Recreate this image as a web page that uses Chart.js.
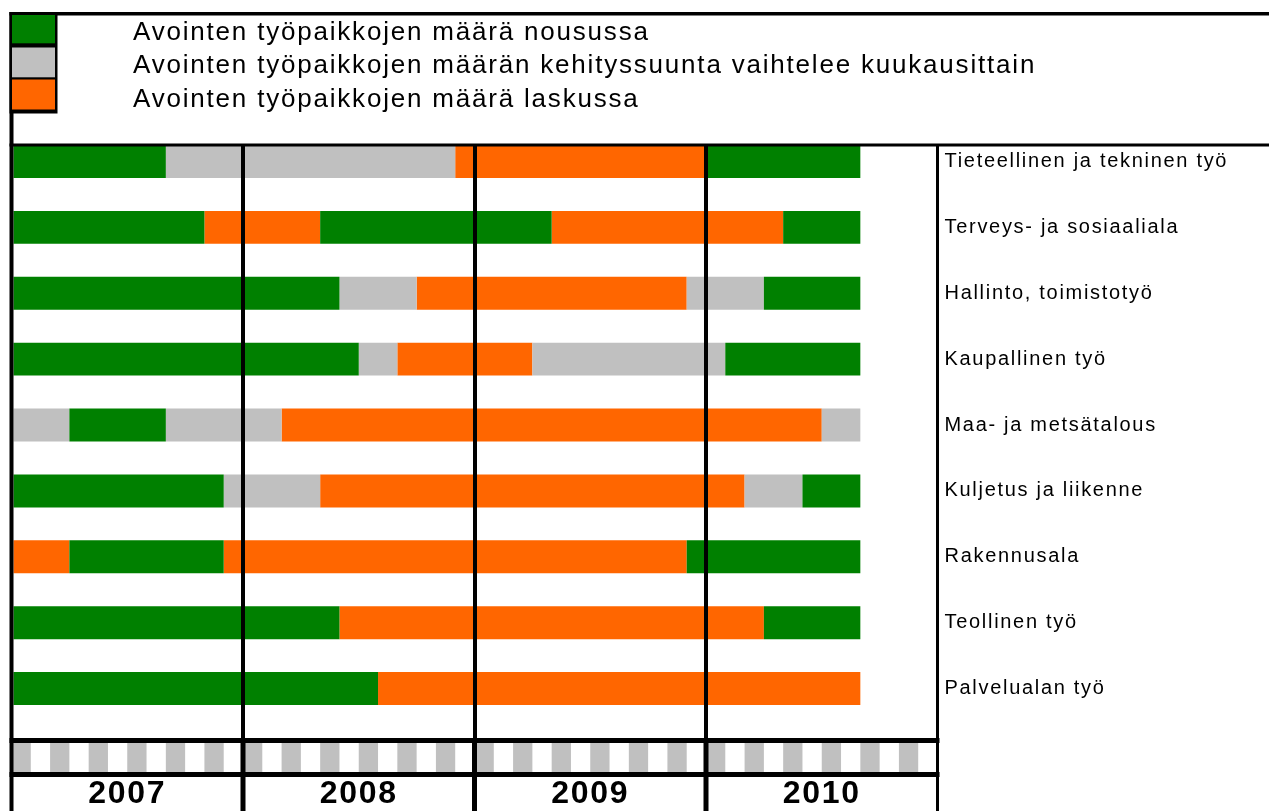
<!DOCTYPE html>
<html>
<head>
<meta charset="utf-8">
<script src="https://cdn.jsdelivr.net/npm/chart.js@4/dist/chart.umd.min.js"></script>
<style>
  html, body { margin: 0; padding: 0; background: #fff; }
  canvas { display: block; }
</style>
</head>
<body>
<canvas id="c" width="1269" height="811"></canvas>
<script>
// ---------- DATA ----------
const categories = [
  'Tieteellinen ja tekninen työ',
  'Terveys- ja sosiaaliala',
  'Hallinto, toimistotyö',
  'Kaupallinen työ',
  'Maa- ja metsätalous',
  'Kuljetus ja liikenne',
  'Rakennusala',
  'Teollinen työ',
  'Palvelualan työ'
];
const years = ['2007', '2008', '2009', '2010'];
const monthsPerYear = 12;
const trendKeys = ['up', 'mixed', 'down'];
const trendLabels = [
  'Avointen työpaikkojen määrä nousussa',
  'Avointen työpaikkojen määrän kehityssuunta vaihtelee kuukausittain',
  'Avointen työpaikkojen määrä laskussa'
];
// consecutive runs (in months, from Jan 2007) for each category
const runMonths = [
  [8, 15, 13, 8],
  [10, 6, 12, 12, 4],
  [17, 4, 14, 4, 5],
  [18, 2, 7, 10, 7],
  [3, 5, 6, 28, 2],
  [11, 5, 22, 3, 3],
  [3, 8, 24, 9],
  [17, 22, 5],
  [19, 25]
];
const runTrend = [
  ['up', 'mixed', 'down', 'up'],
  ['up', 'down', 'up', 'down', 'up'],
  ['up', 'mixed', 'down', 'mixed', 'up'],
  ['up', 'mixed', 'down', 'mixed', 'up'],
  ['mixed', 'up', 'mixed', 'down', 'mixed'],
  ['up', 'mixed', 'down', 'mixed', 'up'],
  ['down', 'up', 'down', 'up'],
  ['up', 'down', 'up'],
  ['up', 'down']
];

// ---------- STYLE ----------
const trendColors = { up: '#008000', mixed: '#C0C0C0', down: '#FF6600' };
const FONT = 'Liberation Sans, Arial, sans-serif';

// ---------- BUILD DATASETS ----------
const totalMonths = years.length * monthsPerYear;
const datasets = trendKeys.map((key, k) => {
  const data = [];
  categories.forEach((cat, i) => {
    let start = 0;
    runMonths[i].forEach((len, j) => {
      if (runTrend[i][j] === key) data.push({ x: [start, start + len], y: i });
      start += len;
    });
  });
  return {
    label: trendLabels[k],
    data,
    backgroundColor: trendColors[key],
    borderWidth: 0,
    borderSkipped: false,
    grouped: false,
    categoryPercentage: 1,
    barPercentage: 0.5
  };
});

// ---------- PLUGINS ----------
const framePlugin = {
  id: 'frame',
  beforeDraw(chart) {
    const ctx = chart.ctx;
    ctx.save();
    ctx.fillStyle = '#fff';
    ctx.fillRect(0, 0, chart.width, chart.height);
    ctx.restore();
    ctx.letterSpacing = '1.7px';
  },
  afterDraw(chart) {
    const ctx = chart.ctx;
    const xs = chart.scales.x;
    const area = chart.chartArea;
    const W = chart.width, H = chart.height;
    ctx.save();

    // month strip
    const stripTop = area.bottom + 5, stripBot = area.bottom + 34;
    ctx.fillStyle = '#C0C0C0';
    for (let m = 0; m < totalMonths; m += 2) {
      const a = xs.getPixelForValue(m), b = xs.getPixelForValue(m + 1);
      ctx.fillRect(a, stripTop, b - a, stripBot - stripTop);
    }
    ctx.fillStyle = '#000';
    const xl = xs.getPixelForValue(0) - 2, xr = xs.getPixelForValue(totalMonths) + 2;
    ctx.fillRect(xl, area.bottom, xr - xl, 5);
    ctx.fillRect(xl, stripBot, xr - xl, 5);
    for (let y = 1; y < years.length; y++) {
      const px = xs.getPixelForValue(y * monthsPerYear);
      ctx.fillRect(px - 2.5, area.bottom, 5, H - area.bottom);
    }
    const pr = xs.getPixelForValue(totalMonths);
    ctx.fillRect(pr - 1.5, area.top, 3, H - area.top);
    ctx.fillRect(9.5, 12, 4, H - 12);
    ctx.fillRect(9.5, 12, W - 9.5, 3.5);
    ctx.fillRect(9.5, area.top - 1.5, W - 9.5, 3);

    // legend
    ctx.fillRect(9.5, 12, 48, 101.5);
    const sw = [[15, 28.3], [47.5, 29.8], [79.5, 30]];
    chart.data.datasets.forEach((ds, i) => {
      ctx.fillStyle = ds.backgroundColor;
      ctx.fillRect(12, sw[i][0], 43, sw[i][1]);
    });
    ctx.fillStyle = '#000';
    ctx.letterSpacing = '1.8px';
    ctx.font = '26px ' + FONT;
    ctx.textBaseline = 'alphabetic';
    ctx.textAlign = 'left';
    const baselines = [39.5, 73, 106.5];
    chart.data.datasets.forEach((ds, i) => {
      ctx.fillText(ds.label, 133, baselines[i]);
    });
    ctx.restore();
  }
};

// ---------- CHART ----------
new Chart(document.getElementById('c'), {
  type: 'bar',
  data: { datasets },
  options: {
    indexAxis: 'y',
    responsive: false,
    animation: false,
    events: [],
    layout: { autoPadding: false, padding: { top: 145, left: 11.5, right: 0, bottom: 0 } },
    plugins: { legend: { display: false }, tooltip: { enabled: false } },
    scales: {
      x: {
        type: 'linear',
        position: 'bottom',
        offset: false,
        min: 0,
        max: totalMonths,
        afterBuildTicks(scale) {
          const t = [];
          for (let v = 0; v <= totalMonths; v += monthsPerYear / 2) t.push({ value: v });
          scale.ticks = t;
        },
        afterFit(scale) { scale.height = 73; },
        border: { display: false },
        grid: {
          z: 1,
          offset: false,
          lineWidth: 4,
          drawTicks: false,
          color(c) {
            const v = c.tick ? c.tick.value : -1;
            return (v > 0 && v < totalMonths && v % monthsPerYear === 0) ? '#000' : 'rgba(0,0,0,0)';
          }
        },
        ticks: {
          autoSkip: false,
          maxRotation: 0,
          minRotation: 0,
          padding: 0,
          color: '#000',
          font: { family: FONT, size: 32, weight: 'bold', lineHeight: 1.17 },
          callback(v) {
            // blank first line pushes the year below the month strip
            return (v % monthsPerYear === monthsPerYear / 2) ? ['', years[(v - monthsPerYear / 2) / monthsPerYear]] : '';
          }
        }
      },
      y: {
        type: 'linear',
        position: 'right',
        reverse: true,
        offset: false,
        min: -0.25,
        max: categories.length - 0.25,
        afterBuildTicks(scale) {
          scale.ticks = categories.map((c, i) => ({ value: i }));
        },
        afterFit(scale) { scale.width = 331.5; },
        border: { display: false },
        grid: { display: false, drawTicks: false, offset: false },
        ticks: {
          autoSkip: false,
          padding: 7,
          color: '#000',
          font: { family: FONT, size: 20 },
          callback(v) { return categories[v] !== undefined ? categories[v] : ''; }
        }
      }
    }
  },
  plugins: [framePlugin]
});
</script>
</body>
</html>
